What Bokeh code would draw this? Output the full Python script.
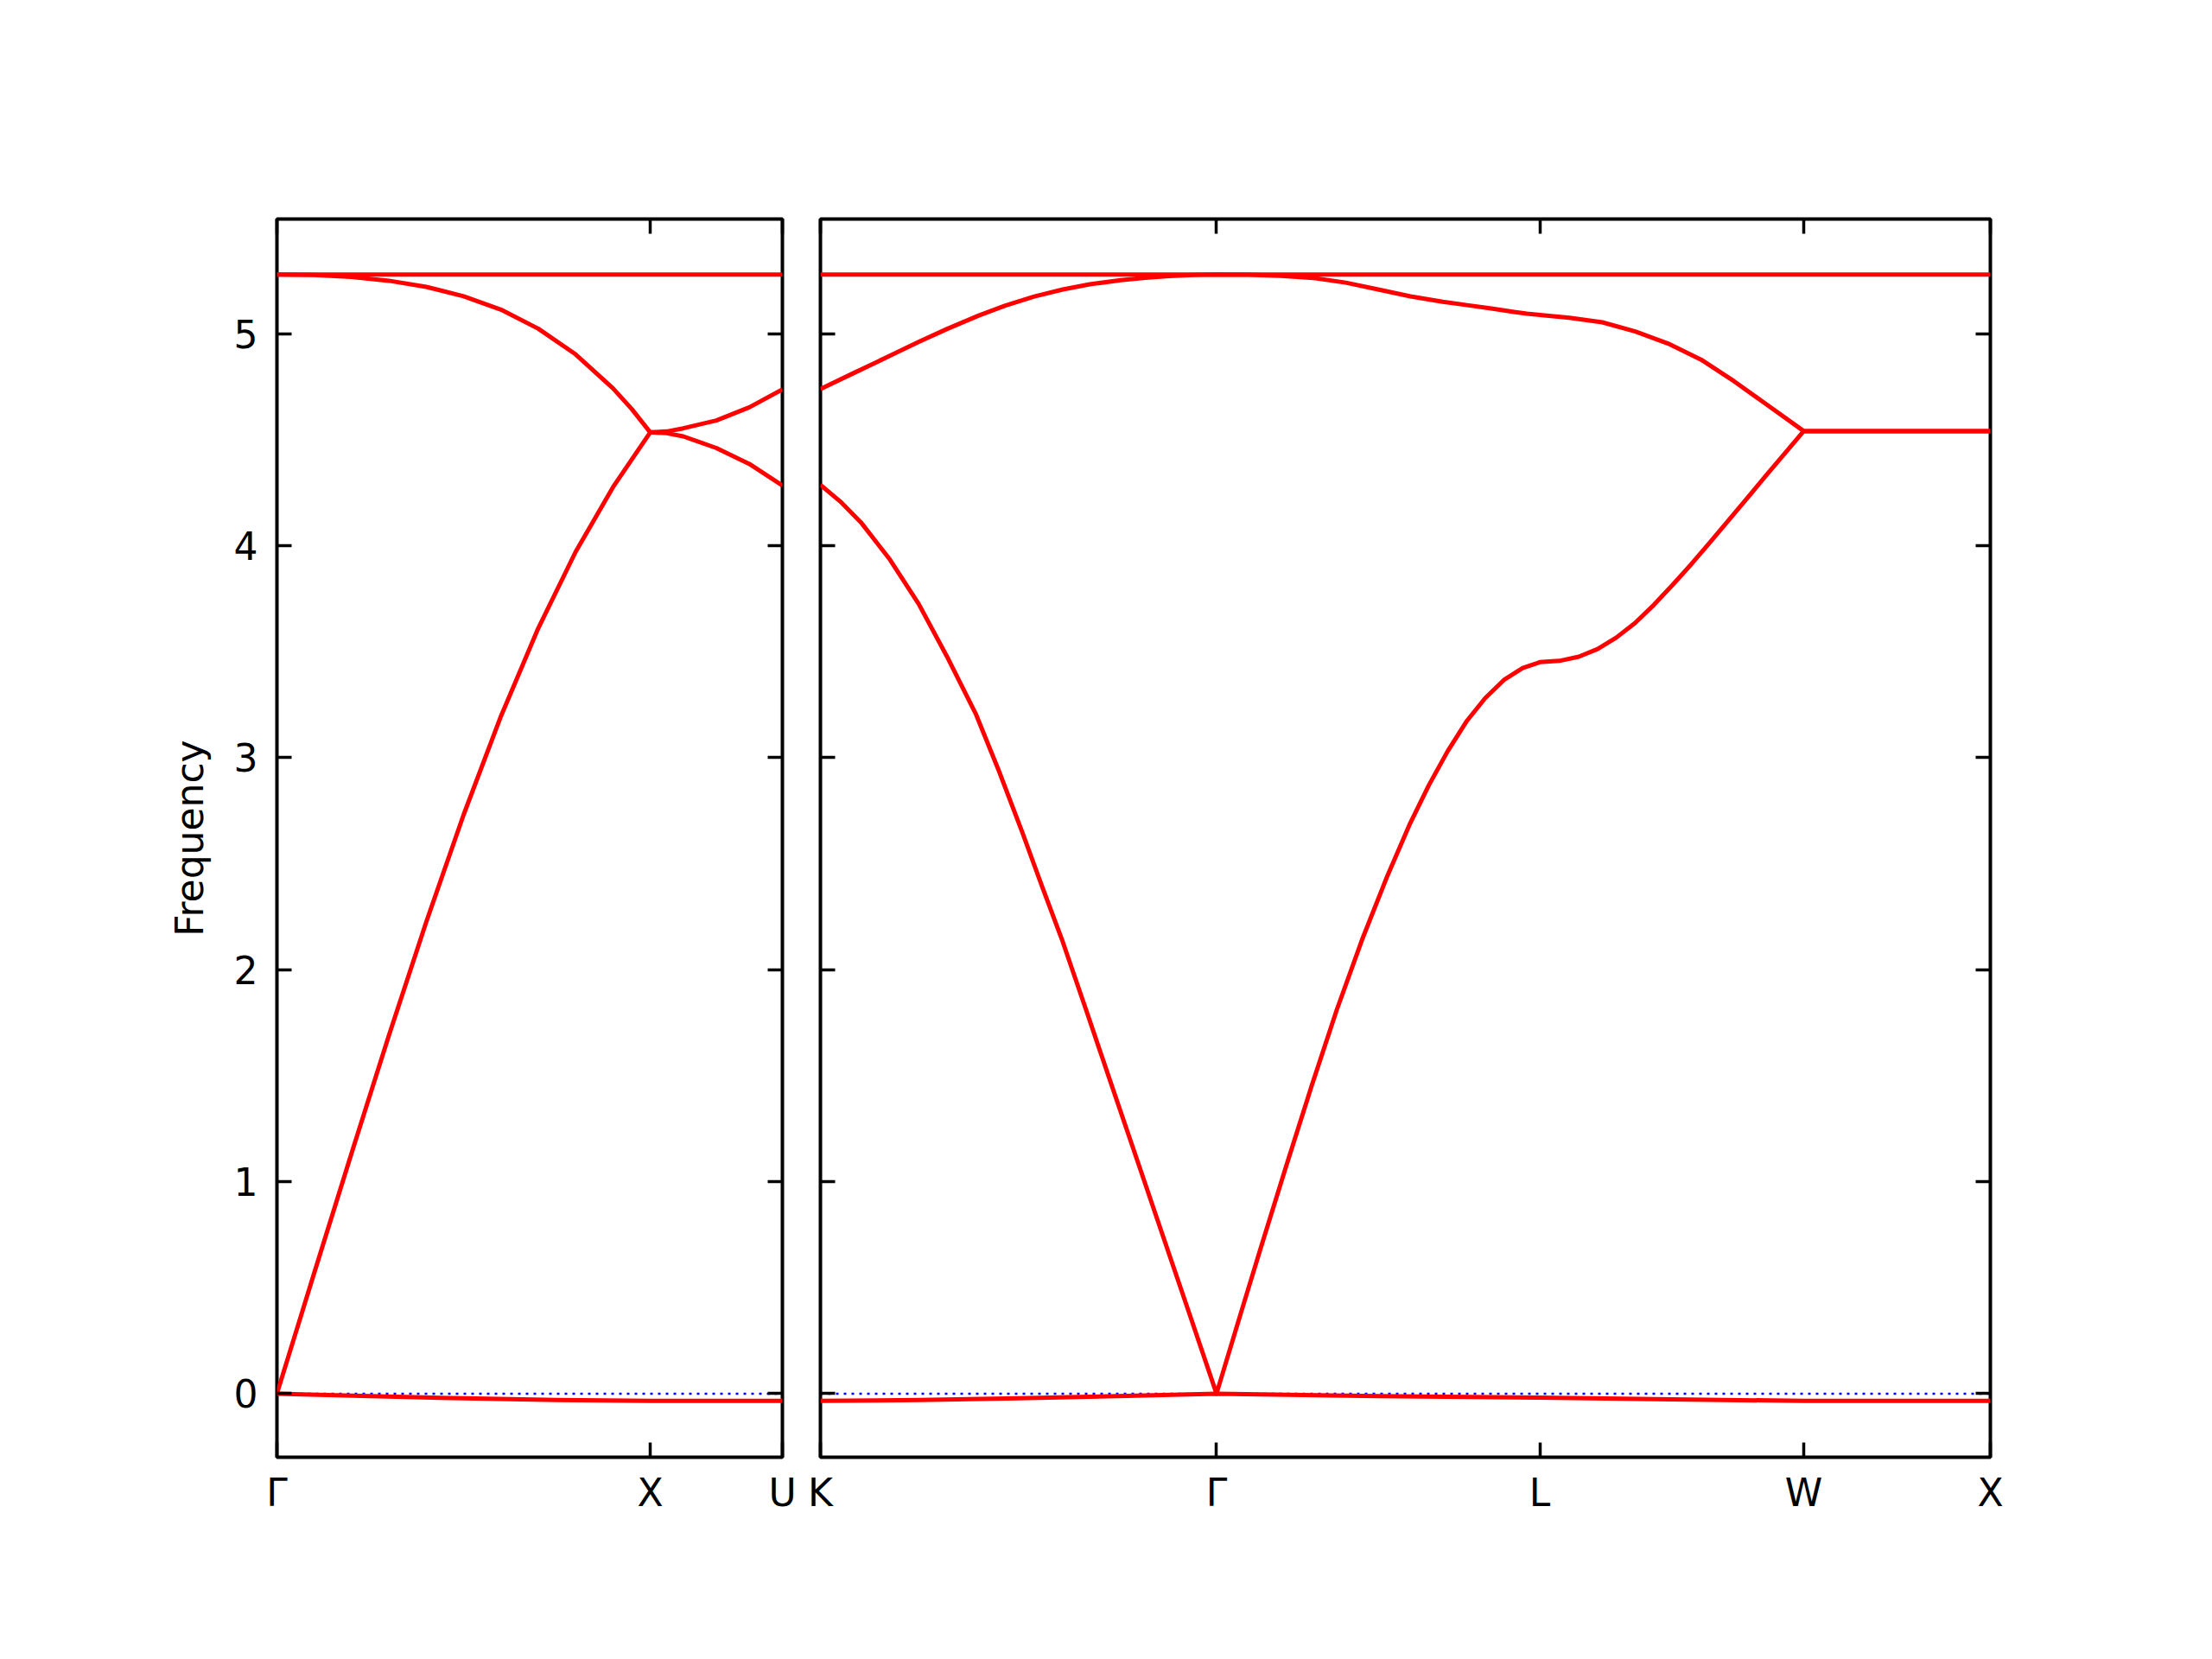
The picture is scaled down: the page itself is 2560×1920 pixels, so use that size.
import numpy as np
from bokeh.plotting import figure
from bokeh.layouts import row
from bokeh.models import Range1d, FixedTicker, Span, LinearAxis
from bokeh.embed import file_html
from bokeh.resources import INLINE

# ---------------- data ----------------
# high-symmetry labels and segment lengths along the path
left_labels = ["Γ", "X", "U"]
left_seg_lengths = [1.0, 0.354]
right_labels = ["K", "Γ", "L", "W", "X"]
right_seg_lengths = [1.061, 0.866, 0.707, 0.5]

y_ticks = [0, 1, 2, 3, 4, 5]
y_limits = [-0.30, 5.54]

# Segment Γ→X  (t = fraction along segment)
GX_t_top = [0.0, 1.0]
GX_top = [5.278, 5.278]
GX_t_b2 = [0.0, 0.1, 0.2, 0.3, 0.4, 0.5, 0.6, 0.7, 0.8, 0.9, 0.95, 1.0]
GX_b2 = [5.278, 5.276, 5.267, 5.249, 5.220, 5.176, 5.113, 5.023, 4.902, 4.742, 4.645, 4.534]
GX_t_b3 = [0.0, 0.1, 0.2, 0.3, 0.4, 0.5, 0.6, 0.7, 0.8, 0.9, 1.0]
GX_b3 = [0.0, 0.570, 1.135, 1.690, 2.225, 2.730, 3.195, 3.610, 3.970, 4.275, 4.534]
GX_t_b4 = [0.0, 0.25, 0.5, 0.75, 1.0]
GX_b4 = [0.0, -0.012, -0.022, -0.030, -0.034]

# Segment X→U
XU_t_top = [0.0, 1.0]
XU_top = [5.278, 5.278]
XU_t = [0.0, 0.125, 0.25, 0.5, 0.75, 1.0]
XU_b2 = [4.534, 4.538, 4.553, 4.590, 4.652, 4.736]
XU_b3 = [4.534, 4.530, 4.515, 4.460, 4.385, 4.283]
XU_t_b4 = [0.0, 1.0]
XU_b4 = [-0.034, -0.034]

# Segment K→Γ
KG_t_top = [0.0, 1.0]
KG_top = [5.278, 5.278]
KG_t_b2 = [0.0, 0.08, 0.174, 0.25, 0.32, 0.4, 0.467, 0.54, 0.612, 0.68, 0.758, 0.82, 0.88, 0.94, 1.0]
KG_b2 = [4.738, 4.810, 4.894, 4.962, 5.022, 5.085, 5.132, 5.175, 5.208, 5.232, 5.252, 5.263, 5.271, 5.276, 5.278]
KG_t_b3 = [0.0, 0.05, 0.102, 0.175, 0.248, 0.32, 0.393, 0.45, 0.51, 0.56, 0.612, 0.67,
           0.735, 0.8, 0.87, 0.935, 1.0]
KG_b3 = [4.286, 4.208, 4.110, 3.935, 3.725, 3.475, 3.203, 2.940, 2.646, 2.390, 2.130, 1.814,
         1.456, 1.100, 0.715, 0.358, 0.0]
KG_t_b4 = [0.0, 0.25, 0.5, 0.75, 1.0]
KG_b4 = [-0.034, -0.030, -0.022, -0.012, 0.0]

# Segment Γ→L
GL_t_top = [0.0, 1.0]
GL_top = [5.278, 5.278]
GL_t_b2 = [0.0, 0.1, 0.2, 0.3, 0.4, 0.5, 0.6, 0.7, 0.78, 0.85, 0.92, 0.96, 1.0]
GL_b2 = [5.278, 5.277, 5.272, 5.262, 5.240, 5.208, 5.175, 5.150, 5.133, 5.118, 5.102, 5.094, 5.088]
GL_t_b3 = [0.0, 0.075, 0.1375, 0.216, 0.294, 0.372, 0.45, 0.528, 0.599, 0.657, 0.715,
           0.773, 0.831, 0.889, 0.947, 1.0]
GL_b3 = [0.0, 0.378, 0.690, 1.075, 1.450, 1.810, 2.140, 2.440, 2.690, 2.870, 3.030,
         3.170, 3.280, 3.366, 3.422, 3.450]
GL_t_b4 = [0.0, 0.5, 1.0]
GL_b4 = [0.0, -0.012, -0.019]

# Segment L→W
LW_t_top = [0.0, 1.0]
LW_top = [5.278, 5.278]
LW_t_b2 = [0.0, 0.112, 0.237, 0.362, 0.486, 0.611, 0.736, 0.86, 1.0]
LW_b2 = [5.088, 5.074, 5.053, 5.010, 4.953, 4.877, 4.775, 4.665, 4.540]
LW_t_b3 = [0.0, 0.074, 0.148, 0.219, 0.29, 0.361, 0.432, 0.503, 0.574, 0.645, 0.716,
           0.787, 0.857, 0.93, 1.0]
LW_b3 = [3.450, 3.456, 3.476, 3.512, 3.566, 3.635, 3.720, 3.814, 3.912, 4.015, 4.120,
         4.225, 4.330, 4.437, 4.540]
LW_t_b4 = [0.0, 0.5, 1.0]
LW_b4 = [-0.019, -0.027, -0.034]

# Segment W→X
WX_t = [0.0, 1.0]
WX_top = [5.278, 5.278]
WX_b2 = [4.540, 4.540]
WX_b3 = [4.540, 4.540]
WX_b4 = [-0.034, -0.034]

# ---------------- helpers ----------------
FONT = "DejaVu Sans"
FS = "44px"


def seg_starts(lengths):
    c = np.concatenate([[0.0], np.cumsum(lengths)])
    return [float(v) for v in c]


def path(starts, lengths, pieces):
    xs, ys = [], []
    for s, l, (t, v) in zip(starts, lengths, pieces):
        xs.extend((s + l * np.asarray(t, dtype=float)).tolist())
        ys.extend(v)
    return xs, ys


def style_axis(ax, show_labels, standoff):
    ax.axis_line_color = None
    ax.major_tick_in = 17
    ax.major_tick_out = 0
    ax.minor_tick_in = 0
    ax.minor_tick_out = 0
    ax.major_tick_line_width = 3.5
    ax.major_tick_line_color = "black"
    ax.major_label_text_font = FONT
    ax.major_label_text_color = "black"
    if show_labels:
        ax.major_label_text_font_size = FS
        ax.major_label_standoff = standoff
    else:
        ax.major_label_text_font_size = "0px"
        ax.major_label_standoff = 0


def make_panel(lengths, labels, border_left, border_right, with_ylabel):
    starts = seg_starts(lengths)
    ticks = starts
    p = figure(
        frame_width=int(round(sum(lengths) * 432.1)),
        frame_height=1433,
        x_range=Range1d(starts[0], starts[-1]),
        y_range=Range1d(y_limits[0], y_limits[1]),
        output_backend="svg",
        toolbar_location=None,
        min_border_left=border_left,
        min_border_right=border_right,
        min_border_top=253,
        min_border_bottom=170,
    )
    p.xgrid.visible = False
    p.ygrid.visible = False
    p.outline_line_color = "black"
    p.outline_line_width = 4
    p.background_fill_color = "white"
    p.border_fill_color = "white"

    # extra axes (top and right) for inward ticks
    p.add_layout(LinearAxis(), "above")
    p.add_layout(LinearAxis(), "right")

    for ax in p.xaxis:
        ax.ticker = FixedTicker(ticks=ticks)
    for ax in p.yaxis:
        ax.ticker = FixedTicker(ticks=y_ticks)

    bottom = p.below[0]
    style_axis(bottom, True, 15)
    bottom.major_label_overrides = {t: lab for t, lab in zip(ticks, labels)}
    top = p.above[0]
    style_axis(top, False, 0)
    top.major_label_overrides = {t: "" for t in ticks}

    left = p.left[0]
    style_axis(left, with_ylabel, 22)
    if with_ylabel:
        left.axis_label = "Frequency"
        left.axis_label_text_font = FONT
        left.axis_label_text_font_size = FS
        left.axis_label_text_font_style = "normal"
        left.axis_label_text_color = "black"
        left.axis_label_standoff = 23
    else:
        left.major_label_overrides = {t: "" for t in y_ticks}
    right = p.right[0]
    style_axis(right, False, 0)
    right.major_label_overrides = {t: "" for t in y_ticks}

    zero = Span(location=0, dimension="width", line_color="blue",
                line_width=2.5, line_dash="3 6", level="underlay")
    p.add_layout(zero)
    return p, starts


def draw(p, starts, lengths, bands):
    for pieces in bands:
        xs, ys = path(starts, lengths, pieces)
        p.line(xs, ys, line_color="red", line_width=5, line_join="round")


# ---------------- left panel ----------------
p1, s1 = make_panel(left_seg_lengths, left_labels, 320, 22, True)
left_bands = [
    [(GX_t_top, GX_top), (XU_t_top, XU_top)],
    [(GX_t_b2, GX_b2), (XU_t, XU_b2)],
    [(GX_t_b3, GX_b3), (XU_t, XU_b3)],
    [(GX_t_b4, GX_b4), (XU_t_b4, XU_b4)],
]
draw(p1, s1, left_seg_lengths, left_bands)

# ---------------- right panel ----------------
p2, s2 = make_panel(right_seg_lengths, right_labels, 22, 200, False)
right_bands = [
    [(KG_t_top, KG_top), (GL_t_top, GL_top), (LW_t_top, LW_top), (WX_t, WX_top)],
    [(KG_t_b2, KG_b2), (GL_t_b2, GL_b2), (LW_t_b2, LW_b2), (WX_t, WX_b2)],
    [(KG_t_b3, KG_b3), (GL_t_b3, GL_b3), (LW_t_b3, LW_b3), (WX_t, WX_b3)],
    [(KG_t_b4, KG_b4), (GL_t_b4, GL_b4), (LW_t_b4, LW_b4), (WX_t, WX_b4)],
]
draw(p2, s2, right_seg_lengths, right_bands)

layout = row(p1, p2)
open("out.html", "w").write(file_html(layout, INLINE))
